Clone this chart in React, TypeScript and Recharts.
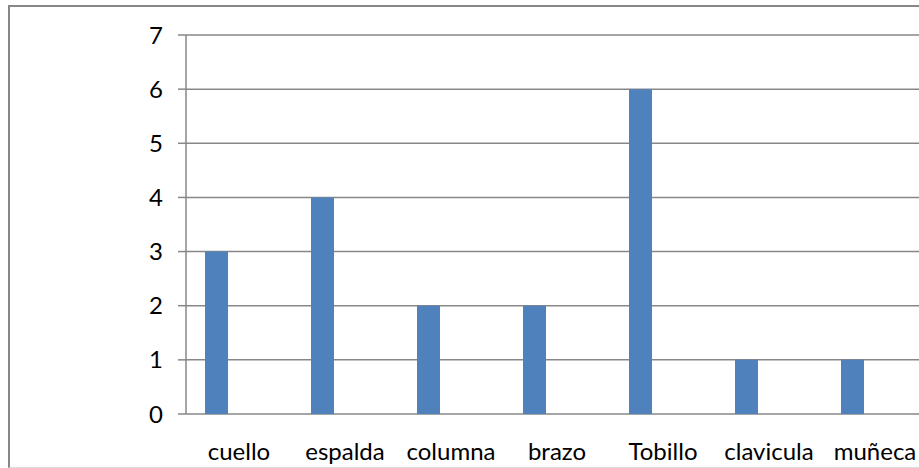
import React from "react";
import { BarChart, Bar, XAxis, YAxis, CartesianGrid } from "recharts";

// Injury location counts
const categories = ["cuello", "espalda", "columna", "brazo", "Tobillo", "clavicula", "muñeca"];
const cases = [3, 4, 2, 2, 6, 1, 1];
// Two unused series keep the Excel-style slot layout (bar sits in the first of three slots)
const emptyA = [null, null, null, null, null, null, null];
const emptyB = [null, null, null, null, null, null, null];
const yTicks = [0, 1, 2, 3, 4, 5, 6, 7];
const boundaryTicks = [0, 1, 2, 3, 4, 5, 6, 7];

const data = categories.map((name, i) => ({
  name,
  cases: cases[i],
  a: emptyA[i],
  b: emptyB[i],
}));

const FONT = "Lato, 'Open Sans', sans-serif";
const GRAY = "#878787";

export default function App() {
  return (
    <div style={{ position: "absolute", left: 0, top: 0, width: 919, height: 468, overflow: "hidden", background: "#fff" }}>
      <div
        style={{
          position: "absolute",
          left: 8,
          top: 5,
          width: 950,
          height: 460,
          borderTop: `2px solid ${GRAY}`,
          borderLeft: `2px solid ${GRAY}`,
          borderBottom: "1px solid #dcdcdc",
        }}
      >
        <BarChart
          width={940}
          height={460}
          data={data}
          margin={{ top: 28, right: 22, bottom: 0, left: 0 }}
          barSize={23}
          barGap={0}
        >
          <CartesianGrid horizontal vertical={false} stroke={GRAY} strokeWidth={1.5} />
          <XAxis
            xAxisId="bounds"
            type="number"
            domain={[0, 7]}
            ticks={boundaryTicks}
            tick={false}
            tickSize={8}
            height={0}
            axisLine={{ stroke: GRAY, strokeWidth: 1.5 }}
            tickLine={{ stroke: GRAY, strokeWidth: 1.5 }}
            allowDataOverflow
          />
          <XAxis
            xAxisId="cat"
            dataKey="name"
            type="category"
            height={53}
            axisLine={false}
            tickLine={false}
            tickSize={0}
            tickMargin={29}
            interval={0}
            tick={{ fill: "#000", fontSize: 24, fontFamily: FONT }}
          />
          <YAxis
            type="number"
            domain={[0, 7]}
            ticks={yTicks}
            width={176}
            tickSize={8}
            tickMargin={15}
            axisLine={{ stroke: GRAY, strokeWidth: 1.5 }}
            tickLine={{ stroke: GRAY, strokeWidth: 1.5 }}
            tick={{ fill: "#000", fontSize: 24, fontFamily: FONT }}
          />
          <Bar xAxisId="cat" dataKey="cases" fill="#4F81BD" isAnimationActive={false} />
          <Bar xAxisId="cat" dataKey="a" fill="#C0504D" isAnimationActive={false} />
          <Bar xAxisId="cat" dataKey="b" fill="#9BBB59" isAnimationActive={false} />
        </BarChart>
      </div>
    </div>
  );
}
